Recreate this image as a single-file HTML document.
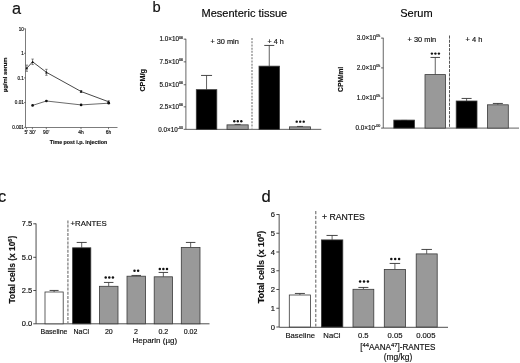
<!DOCTYPE html>
<html><head><meta charset="utf-8"><title>Figure</title>
<style>
html,body{margin:0;padding:0;background:#fff;}
body{width:520px;height:363px;overflow:hidden;}
svg{display:block;font-family:"Liberation Sans", sans-serif;filter:blur(0.35px);}
text{stroke:#111;stroke-width:0.16px;}
</style></head>
<body>
<svg width="520" height="363" viewBox="0 0 520 363">
<rect x="0" y="0" width="520" height="363" fill="#ffffff"/>
<text x="11.9" y="13.8" font-size="16.3" text-anchor="start" font-weight="normal" fill="#111" >a</text>
<line x1="25.5" y1="28.5" x2="25.5" y2="127.5" stroke="#444" stroke-width="0.7" />
<line x1="25.5" y1="127.5" x2="117.5" y2="127.5" stroke="#444" stroke-width="0.7" />
<line x1="24.0" y1="28.9" x2="25.5" y2="28.9" stroke="#444" stroke-width="0.7" />
<text x="23.8" y="30.5" font-size="4.6" text-anchor="end" font-weight="normal" fill="#111" >10</text>
<line x1="24.0" y1="53.3" x2="25.5" y2="53.3" stroke="#444" stroke-width="0.7" />
<text x="23.8" y="54.9" font-size="4.6" text-anchor="end" font-weight="normal" fill="#111" >1</text>
<line x1="24.0" y1="77.9" x2="25.5" y2="77.9" stroke="#444" stroke-width="0.7" />
<text x="23.8" y="79.5" font-size="4.6" text-anchor="end" font-weight="normal" fill="#111" >0.1</text>
<line x1="24.0" y1="102.6" x2="25.5" y2="102.6" stroke="#444" stroke-width="0.7" />
<text x="23.8" y="104.19999999999999" font-size="4.6" text-anchor="end" font-weight="normal" fill="#111" >0.01</text>
<line x1="24.0" y1="127.4" x2="25.5" y2="127.4" stroke="#444" stroke-width="0.7" />
<text x="23.8" y="129.0" font-size="4.6" text-anchor="end" font-weight="normal" fill="#111" >0.001</text>
<line x1="26.4" y1="127.5" x2="26.4" y2="129.2" stroke="#444" stroke-width="0.7" />
<text x="26.4" y="134.2" font-size="4.9" text-anchor="middle" font-weight="normal" fill="#111" >5'</text>
<line x1="32.4" y1="127.5" x2="32.4" y2="129.2" stroke="#444" stroke-width="0.7" />
<text x="32.4" y="134.2" font-size="4.9" text-anchor="middle" font-weight="normal" fill="#111" >30'</text>
<line x1="46.3" y1="127.5" x2="46.3" y2="129.2" stroke="#444" stroke-width="0.7" />
<text x="46.3" y="134.2" font-size="4.9" text-anchor="middle" font-weight="normal" fill="#111" >90'</text>
<line x1="81" y1="127.5" x2="81" y2="129.2" stroke="#444" stroke-width="0.7" />
<text x="81" y="134.2" font-size="4.9" text-anchor="middle" font-weight="normal" fill="#111" >4h</text>
<line x1="108.5" y1="127.5" x2="108.5" y2="129.2" stroke="#444" stroke-width="0.7" />
<text x="108.5" y="134.2" font-size="4.9" text-anchor="middle" font-weight="normal" fill="#111" >6h</text>
<text transform="translate(6.7,74.8) rotate(-90)" font-size="5.85" font-weight="bold" text-anchor="middle" fill="#111">µg/ml serum</text>
<text x="78.5" y="144" font-size="5.3" text-anchor="middle" font-weight="bold" fill="#111" >Time post i.p. injection</text>
<polyline fill="none" stroke="#333" stroke-width="0.9" points="26.8,68.2 32.6,61.8 46.4,72.3 81.1,91.5 108.7,101.8"/>
<polyline fill="none" stroke="#5a5a5a" stroke-width="0.9" points="32.6,105.4 46.4,101 81.1,104.9 108.7,103.2"/>
<line x1="26.8" y1="65.10000000000001" x2="26.8" y2="71.3" stroke="#3a3a3a" stroke-width="0.6" />
<line x1="25.6" y1="65.10000000000001" x2="28.0" y2="65.10000000000001" stroke="#3a3a3a" stroke-width="0.6" />
<line x1="25.6" y1="71.3" x2="28.0" y2="71.3" stroke="#3a3a3a" stroke-width="0.6" />
<polygon points="26.8,66.8 28.1,69.3 25.5,69.3" fill="#111"/>
<line x1="32.6" y1="59.05" x2="32.6" y2="64.55" stroke="#3a3a3a" stroke-width="0.6" />
<line x1="31.400000000000002" y1="59.05" x2="33.800000000000004" y2="59.05" stroke="#3a3a3a" stroke-width="0.6" />
<line x1="31.400000000000002" y1="64.55" x2="33.800000000000004" y2="64.55" stroke="#3a3a3a" stroke-width="0.6" />
<polygon points="32.6,60.4 33.9,62.9 31.3,62.9" fill="#111"/>
<line x1="46.4" y1="69.3" x2="46.4" y2="75.3" stroke="#3a3a3a" stroke-width="0.6" />
<line x1="45.199999999999996" y1="69.3" x2="47.6" y2="69.3" stroke="#3a3a3a" stroke-width="0.6" />
<line x1="45.199999999999996" y1="75.3" x2="47.6" y2="75.3" stroke="#3a3a3a" stroke-width="0.6" />
<polygon points="46.4,70.89999999999999 47.699999999999996,73.39999999999999 45.1,73.39999999999999" fill="#111"/>
<line x1="81.1" y1="90.5" x2="81.1" y2="92.5" stroke="#3a3a3a" stroke-width="0.6" />
<line x1="79.89999999999999" y1="90.5" x2="82.3" y2="90.5" stroke="#3a3a3a" stroke-width="0.6" />
<line x1="79.89999999999999" y1="92.5" x2="82.3" y2="92.5" stroke="#3a3a3a" stroke-width="0.6" />
<polygon points="81.1,90.1 82.39999999999999,92.6 79.8,92.6" fill="#111"/>
<line x1="108.7" y1="100.8" x2="108.7" y2="102.8" stroke="#3a3a3a" stroke-width="0.6" />
<line x1="107.5" y1="100.8" x2="109.9" y2="100.8" stroke="#3a3a3a" stroke-width="0.6" />
<line x1="107.5" y1="102.8" x2="109.9" y2="102.8" stroke="#3a3a3a" stroke-width="0.6" />
<polygon points="108.7,100.39999999999999 110.0,102.89999999999999 107.4,102.89999999999999" fill="#111"/>
<circle cx="32.6" cy="105.4" r="1.35" fill="#111"/>
<circle cx="46.4" cy="101" r="1.35" fill="#111"/>
<circle cx="81.1" cy="104.9" r="1.35" fill="#111"/>
<circle cx="108.7" cy="103.2" r="1.35" fill="#111"/>
<g transform="translate(0,0.55)">
<text x="152.5" y="11.9" font-size="14.7" text-anchor="start" font-weight="normal" fill="#111" >b</text>
<text x="244.4" y="16.85" font-size="11.0" text-anchor="middle" font-weight="normal" fill="#000" >Mesenteric tissue</text>
<line x1="185.9" y1="38.3" x2="185.9" y2="128.8" stroke="#666" stroke-width="1.0" />
<line x1="185.9" y1="128.8" x2="321.3" y2="128.8" stroke="#3a3a3a" stroke-width="0.8" />
<line x1="183.70000000000002" y1="38.6" x2="185.9" y2="38.6" stroke="#3a3a3a" stroke-width="0.8" />
<text x="182.9" y="40.800000000000004" font-size="6.3" text-anchor="end" fill="#111">1.0×10<tspan font-size="3.6" dy="-2.8">06</tspan></text>
<line x1="183.70000000000002" y1="61.3" x2="185.9" y2="61.3" stroke="#3a3a3a" stroke-width="0.8" />
<text x="182.9" y="63.5" font-size="6.3" text-anchor="end" fill="#111">7.5×10<tspan font-size="3.6" dy="-2.8">06</tspan></text>
<line x1="183.70000000000002" y1="84.2" x2="185.9" y2="84.2" stroke="#3a3a3a" stroke-width="0.8" />
<text x="182.9" y="86.4" font-size="6.3" text-anchor="end" fill="#111">5.0×10<tspan font-size="3.6" dy="-2.8">06</tspan></text>
<line x1="183.70000000000002" y1="106.3" x2="185.9" y2="106.3" stroke="#3a3a3a" stroke-width="0.8" />
<text x="182.9" y="108.5" font-size="6.3" text-anchor="end" fill="#111">2.5×10<tspan font-size="3.6" dy="-2.8">06</tspan></text>
<line x1="183.70000000000002" y1="128.8" x2="185.9" y2="128.8" stroke="#3a3a3a" stroke-width="0.8" />
<text x="182.9" y="131.0" font-size="6.3" text-anchor="end" fill="#111">0.0×10<tspan font-size="3.6" dy="-2.8">-00</tspan></text>
<text transform="translate(145.3,79.85) rotate(-90)" font-size="7.2" font-weight="bold" text-anchor="middle" fill="#111">CPM/g</text>
<line x1="206.55" y1="89.1" x2="206.55" y2="74.9" stroke="#3a3a3a" stroke-width="0.8" />
<line x1="201.05" y1="74.9" x2="212.05" y2="74.9" stroke="#333" stroke-width="0.9" />
<rect x="196.3" y="89.1" width="20.5" height="39.70000000000002" fill="#000" stroke="#3a3a3a" stroke-width="0.8"/>
<line x1="237.6" y1="124.3" x2="237.6" y2="123.9" stroke="#3a3a3a" stroke-width="0.8" />
<line x1="234.6" y1="123.9" x2="240.6" y2="123.9" stroke="#333" stroke-width="0.9" />
<rect x="227" y="124.3" width="21.19999999999999" height="4.500000000000014" fill="#999999" stroke="#3a3a3a" stroke-width="0.8"/>
<circle cx="234.3" cy="120.7" r="1.2" fill="#111"/>
<circle cx="237.8" cy="120.7" r="1.2" fill="#111"/>
<circle cx="241.3" cy="120.7" r="1.2" fill="#111"/>
<line x1="252" y1="37.5" x2="252" y2="128" stroke="#8a8a8a" stroke-width="1.3" stroke-dasharray="2 1.2"/>
<line x1="269.25" y1="65.6" x2="269.25" y2="44.900000000000006" stroke="#3a3a3a" stroke-width="0.8" />
<line x1="264.25" y1="44.900000000000006" x2="274.25" y2="44.900000000000006" stroke="#333" stroke-width="0.9" />
<rect x="259.0" y="65.6" width="20.5" height="63.20000000000002" fill="#000" stroke="#3a3a3a" stroke-width="0.8"/>
<line x1="300.0" y1="126.3" x2="300.0" y2="125.9" stroke="#3a3a3a" stroke-width="0.8" />
<line x1="297.0" y1="125.9" x2="303.0" y2="125.9" stroke="#333" stroke-width="0.9" />
<rect x="289.5" y="126.3" width="21.0" height="2.500000000000014" fill="#999999" stroke="#3a3a3a" stroke-width="0.8"/>
<circle cx="296.7" cy="121.1" r="1.2" fill="#111"/>
<circle cx="300.2" cy="121.1" r="1.2" fill="#111"/>
<circle cx="303.7" cy="121.1" r="1.2" fill="#111"/>
<text x="224.6" y="43.3" font-size="7.35" text-anchor="middle" font-weight="normal" fill="#111" >+ 30 min</text>
<text x="275.6" y="43.5" font-size="7.2" text-anchor="middle" font-weight="normal" fill="#111" >+ 4 h</text>
</g>
<g transform="translate(0,0.6)">
<text x="416.4" y="16.8" font-size="11.0" text-anchor="middle" font-weight="normal" fill="#000" >Serum</text>
<line x1="383.25" y1="37.2" x2="383.25" y2="127.5" stroke="#666" stroke-width="1.0" />
<line x1="383.25" y1="127.5" x2="519" y2="127.5" stroke="#3a3a3a" stroke-width="0.8" />
<line x1="381.05" y1="37.5" x2="383.25" y2="37.5" stroke="#3a3a3a" stroke-width="0.8" />
<text x="380.25" y="39.7" font-size="6.3" text-anchor="end" fill="#111">3.0×10<tspan font-size="3.6" dy="-2.8">05</tspan></text>
<line x1="381.05" y1="67.3" x2="383.25" y2="67.3" stroke="#3a3a3a" stroke-width="0.8" />
<text x="380.25" y="69.5" font-size="6.3" text-anchor="end" fill="#111">2.0×10<tspan font-size="3.6" dy="-2.8">05</tspan></text>
<line x1="381.05" y1="97.5" x2="383.25" y2="97.5" stroke="#3a3a3a" stroke-width="0.8" />
<text x="380.25" y="99.7" font-size="6.3" text-anchor="end" fill="#111">1.0×10<tspan font-size="3.6" dy="-2.8">05</tspan></text>
<line x1="381.05" y1="127.5" x2="383.25" y2="127.5" stroke="#3a3a3a" stroke-width="0.8" />
<text x="380.25" y="129.7" font-size="6.3" text-anchor="end" fill="#111">0.0×10<tspan font-size="3.6" dy="-2.8">-00</tspan></text>
<text transform="translate(343,78.8) rotate(-90)" font-size="6.9" font-weight="bold" text-anchor="middle" fill="#111">CPM/ml</text>
<line x1="404.15" y1="119.5" x2="404.15" y2="119.85000000000001" stroke="#3a3a3a" stroke-width="0.8" />
<line x1="401.15" y1="119.85000000000001" x2="407.15" y2="119.85000000000001" stroke="#333" stroke-width="0.9" />
<rect x="393.8" y="119.5" width="20.69999999999999" height="8.0" fill="#000" stroke="#3a3a3a" stroke-width="0.8"/>
<line x1="435.25" y1="74" x2="435.25" y2="56.85" stroke="#3a3a3a" stroke-width="0.8" />
<line x1="430.5" y1="56.85" x2="440.0" y2="56.85" stroke="#333" stroke-width="0.9" />
<rect x="425" y="74" width="20.5" height="53.5" fill="#999999" stroke="#3a3a3a" stroke-width="0.8"/>
<circle cx="431.9" cy="53" r="1.2" fill="#111"/>
<circle cx="435.4" cy="53" r="1.2" fill="#111"/>
<circle cx="438.9" cy="53" r="1.2" fill="#111"/>
<line x1="449.5" y1="34.9" x2="449.5" y2="127" stroke="#444" stroke-width="0.9" stroke-dasharray="3.1 1.1"/>
<line x1="466.6" y1="100.4" x2="466.6" y2="97.85000000000001" stroke="#3a3a3a" stroke-width="0.8" />
<line x1="461.6" y1="97.85000000000001" x2="471.6" y2="97.85000000000001" stroke="#333" stroke-width="0.9" />
<rect x="456.2" y="100.4" width="20.80000000000001" height="27.099999999999994" fill="#000" stroke="#3a3a3a" stroke-width="0.8"/>
<line x1="497.85" y1="104.2" x2="497.85" y2="102.85000000000001" stroke="#3a3a3a" stroke-width="0.8" />
<line x1="492.85" y1="102.85000000000001" x2="502.85" y2="102.85000000000001" stroke="#333" stroke-width="0.9" />
<rect x="487.4" y="104.2" width="20.900000000000034" height="23.299999999999997" fill="#999999" stroke="#3a3a3a" stroke-width="0.8"/>
<text x="421.9" y="41.9" font-size="7.4" text-anchor="middle" font-weight="normal" fill="#111" >+ 30 min</text>
<text x="482.4" y="41.7" font-size="7.5" text-anchor="end" font-weight="normal" fill="#111" >+ 4 h</text>
</g>
<text x="-2.0" y="202.3" font-size="16.4" text-anchor="start" font-weight="normal" fill="#111" >c</text>
<line x1="36.05" y1="223.5" x2="36.05" y2="323.8" stroke="#3a3a3a" stroke-width="0.9" />
<line x1="36.05" y1="323.8" x2="209.5" y2="323.8" stroke="#3a3a3a" stroke-width="0.9" />
<line x1="33.25" y1="223.8" x2="36.05" y2="223.8" stroke="#3a3a3a" stroke-width="0.9" />
<text x="32.25" y="226.4" font-size="7.5" text-anchor="end" font-weight="normal" fill="#111" >7.5</text>
<line x1="33.25" y1="257.3" x2="36.05" y2="257.3" stroke="#3a3a3a" stroke-width="0.9" />
<text x="32.25" y="259.90000000000003" font-size="7.5" text-anchor="end" font-weight="normal" fill="#111" >5.0</text>
<line x1="33.25" y1="290.5" x2="36.05" y2="290.5" stroke="#3a3a3a" stroke-width="0.9" />
<text x="32.25" y="293.1" font-size="7.5" text-anchor="end" font-weight="normal" fill="#111" >2.5</text>
<line x1="33.25" y1="323.8" x2="36.05" y2="323.8" stroke="#3a3a3a" stroke-width="0.9" />
<text x="32.25" y="326.40000000000003" font-size="7.5" text-anchor="end" font-weight="normal" fill="#111" >0.0</text>
<text transform="translate(14.5,269.6) rotate(-90)" font-size="8.4" font-weight="bold" text-anchor="middle" fill="#111">Total cells (x 10<tspan font-size="5.5" dy="-3">6</tspan><tspan dy="3">)</tspan></text>
<line x1="67.9" y1="220.4" x2="67.9" y2="323.3" stroke="#8a8a8a" stroke-width="1.4" stroke-dasharray="3 1.2"/>
<text x="70.5" y="225.9" font-size="7.8" text-anchor="start" font-weight="normal" fill="#111" >+RANTES</text>
<line x1="54.1" y1="292" x2="54.1" y2="290.45" stroke="#3a3a3a" stroke-width="0.8" />
<line x1="49.6" y1="290.45" x2="58.6" y2="290.45" stroke="#333" stroke-width="0.9" />
<rect x="45" y="292" width="18.200000000000003" height="31.80000000000001" fill="#fff" stroke="#3a3a3a" stroke-width="0.8"/>
<line x1="81.69999999999999" y1="247.8" x2="81.69999999999999" y2="242.45" stroke="#3a3a3a" stroke-width="0.8" />
<line x1="76.69999999999999" y1="242.45" x2="86.69999999999999" y2="242.45" stroke="#333" stroke-width="0.9" />
<rect x="72.6" y="247.8" width="18.200000000000003" height="76.0" fill="#000" stroke="#3a3a3a" stroke-width="0.8"/>
<line x1="108.7" y1="286.3" x2="108.7" y2="282.45" stroke="#3a3a3a" stroke-width="0.8" />
<line x1="103.95" y1="282.45" x2="113.45" y2="282.45" stroke="#333" stroke-width="0.9" />
<rect x="99.4" y="286.3" width="18.599999999999994" height="37.5" fill="#999999" stroke="#3a3a3a" stroke-width="0.8"/>
<circle cx="105.7" cy="277.6" r="1.25" fill="#111"/>
<circle cx="109.3" cy="277.6" r="1.25" fill="#111"/>
<circle cx="112.9" cy="277.6" r="1.25" fill="#111"/>
<line x1="136.25" y1="276.2" x2="136.25" y2="275.45" stroke="#3a3a3a" stroke-width="0.8" />
<line x1="131.5" y1="275.45" x2="141.0" y2="275.45" stroke="#333" stroke-width="0.9" />
<rect x="127" y="276.2" width="18.5" height="47.60000000000002" fill="#999999" stroke="#3a3a3a" stroke-width="0.8"/>
<circle cx="134.5" cy="270.8" r="1.25" fill="#111"/>
<circle cx="138.1" cy="270.8" r="1.25" fill="#111"/>
<line x1="163.35" y1="276.8" x2="163.35" y2="272.45" stroke="#3a3a3a" stroke-width="0.8" />
<line x1="158.6" y1="272.45" x2="168.1" y2="272.45" stroke="#333" stroke-width="0.9" />
<rect x="154.2" y="276.8" width="18.30000000000001" height="47.0" fill="#999999" stroke="#3a3a3a" stroke-width="0.8"/>
<circle cx="159.8" cy="269.0" r="1.25" fill="#111"/>
<circle cx="163.4" cy="269.0" r="1.25" fill="#111"/>
<circle cx="167.0" cy="269.0" r="1.25" fill="#111"/>
<line x1="190.65" y1="247.4" x2="190.65" y2="242.45" stroke="#3a3a3a" stroke-width="0.8" />
<line x1="185.9" y1="242.45" x2="195.4" y2="242.45" stroke="#333" stroke-width="0.9" />
<rect x="181.3" y="247.4" width="18.69999999999999" height="76.4" fill="#999999" stroke="#3a3a3a" stroke-width="0.8"/>
<text x="54" y="333.6" font-size="7" text-anchor="middle" font-weight="normal" fill="#111" >Baseline</text>
<text x="81.3" y="333.6" font-size="7" text-anchor="middle" font-weight="normal" fill="#111" >NaCl</text>
<text x="108.8" y="333.6" font-size="7" text-anchor="middle" font-weight="normal" fill="#111" >20</text>
<text x="135.9" y="333.6" font-size="7" text-anchor="middle" font-weight="normal" fill="#111" >2</text>
<text x="163.3" y="333.6" font-size="7" text-anchor="middle" font-weight="normal" fill="#111" >0.2</text>
<text x="190.6" y="333.6" font-size="7" text-anchor="middle" font-weight="normal" fill="#111" >0.02</text>
<text x="154.8" y="343.3" font-size="8" text-anchor="middle" font-weight="normal" fill="#111" >Heparin (µg)</text>
<text x="261.4" y="202" font-size="16.6" text-anchor="start" font-weight="normal" fill="#111" >d</text>
<line x1="279.15" y1="214.2" x2="279.15" y2="327" stroke="#3a3a3a" stroke-width="0.9" />
<line x1="279.15" y1="327.3" x2="448" y2="327.3" stroke="#3a3a3a" stroke-width="0.9" />
<line x1="276.34999999999997" y1="327.0" x2="279.15" y2="327.0" stroke="#3a3a3a" stroke-width="0.9" />
<text x="274.95" y="329.7" font-size="7.6" text-anchor="end" font-weight="normal" fill="#111" >0</text>
<line x1="276.34999999999997" y1="308.25" x2="279.15" y2="308.25" stroke="#3a3a3a" stroke-width="0.9" />
<text x="274.95" y="310.95" font-size="7.6" text-anchor="end" font-weight="normal" fill="#111" >1</text>
<line x1="276.34999999999997" y1="289.5" x2="279.15" y2="289.5" stroke="#3a3a3a" stroke-width="0.9" />
<text x="274.95" y="292.2" font-size="7.6" text-anchor="end" font-weight="normal" fill="#111" >2</text>
<line x1="276.34999999999997" y1="270.75" x2="279.15" y2="270.75" stroke="#3a3a3a" stroke-width="0.9" />
<text x="274.95" y="273.45" font-size="7.6" text-anchor="end" font-weight="normal" fill="#111" >3</text>
<line x1="276.34999999999997" y1="252.0" x2="279.15" y2="252.0" stroke="#3a3a3a" stroke-width="0.9" />
<text x="274.95" y="254.7" font-size="7.6" text-anchor="end" font-weight="normal" fill="#111" >4</text>
<line x1="276.34999999999997" y1="233.25" x2="279.15" y2="233.25" stroke="#3a3a3a" stroke-width="0.9" />
<text x="274.95" y="235.95" font-size="7.6" text-anchor="end" font-weight="normal" fill="#111" >5</text>
<line x1="276.34999999999997" y1="214.5" x2="279.15" y2="214.5" stroke="#3a3a3a" stroke-width="0.9" />
<text x="274.95" y="217.2" font-size="7.6" text-anchor="end" font-weight="normal" fill="#111" >6</text>
<text transform="translate(264.4,267) rotate(-90)" font-size="9" font-weight="bold" text-anchor="middle" fill="#111">Total cells (x 10<tspan font-size="5.8" dy="-3.2">6</tspan><tspan dy="3.2">)</tspan></text>
<line x1="315.8" y1="211" x2="315.8" y2="326.5" stroke="#4a4a4a" stroke-width="0.9" stroke-dasharray="3.2 1.7"/>
<text x="322" y="220.2" font-size="8.7" text-anchor="start" font-weight="normal" fill="#111" >+ RANTES</text>
<line x1="299.9" y1="295" x2="299.9" y2="293.45" stroke="#3a3a3a" stroke-width="0.8" />
<line x1="294.9" y1="293.45" x2="304.9" y2="293.45" stroke="#333" stroke-width="0.9" />
<rect x="289.3" y="295" width="21.19999999999999" height="32" fill="#fff" stroke="#3a3a3a" stroke-width="0.8"/>
<line x1="332.1" y1="239.9" x2="332.1" y2="235.45" stroke="#3a3a3a" stroke-width="0.8" />
<line x1="326.5" y1="235.45" x2="337.70000000000005" y2="235.45" stroke="#333" stroke-width="0.9" />
<rect x="321.4" y="239.9" width="21.400000000000034" height="87.1" fill="#000" stroke="#3a3a3a" stroke-width="0.8"/>
<line x1="363.4" y1="289.3" x2="363.4" y2="287.45" stroke="#3a3a3a" stroke-width="0.8" />
<line x1="358.4" y1="287.45" x2="368.4" y2="287.45" stroke="#333" stroke-width="0.9" />
<rect x="353" y="289.3" width="20.80000000000001" height="37.69999999999999" fill="#999999" stroke="#3a3a3a" stroke-width="0.8"/>
<circle cx="360.1" cy="281.6" r="1.25" fill="#111"/>
<circle cx="364.0" cy="281.6" r="1.25" fill="#111"/>
<circle cx="367.90000000000003" cy="281.6" r="1.25" fill="#111"/>
<line x1="394.9" y1="269.5" x2="394.9" y2="263.45" stroke="#3a3a3a" stroke-width="0.8" />
<line x1="389.65" y1="263.45" x2="400.15" y2="263.45" stroke="#333" stroke-width="0.9" />
<rect x="384.3" y="269.5" width="21.19999999999999" height="57.5" fill="#999999" stroke="#3a3a3a" stroke-width="0.8"/>
<circle cx="391.3" cy="258.9" r="1.25" fill="#111"/>
<circle cx="395.2" cy="258.9" r="1.25" fill="#111"/>
<circle cx="399.1" cy="258.9" r="1.25" fill="#111"/>
<line x1="426.7" y1="253.9" x2="426.7" y2="249.45" stroke="#3a3a3a" stroke-width="0.8" />
<line x1="421.45" y1="249.45" x2="431.95" y2="249.45" stroke="#333" stroke-width="0.9" />
<rect x="416.2" y="253.9" width="21.0" height="73.1" fill="#999999" stroke="#3a3a3a" stroke-width="0.8"/>
<text x="300.2" y="337.7" font-size="7.7" text-anchor="middle" font-weight="normal" fill="#111" >Baseline</text>
<text x="331.9" y="337.7" font-size="7.7" text-anchor="middle" font-weight="normal" fill="#111" >NaCl</text>
<text x="363.3" y="337.7" font-size="7.7" text-anchor="middle" font-weight="normal" fill="#111" >0.5</text>
<text x="395" y="337.7" font-size="7.7" text-anchor="middle" font-weight="normal" fill="#111" >0.05</text>
<text x="425.8" y="337.7" font-size="7.7" text-anchor="middle" font-weight="normal" fill="#111" >0.005</text>
<text x="397.8" y="349.9" font-size="8.15" text-anchor="middle" fill="#111">[<tspan font-size="5.8" dy="-2.8">44</tspan><tspan dy="2.8">AANA</tspan><tspan font-size="5.8" dy="-2.8">47</tspan><tspan dy="2.8">]-RANTES</tspan></text>
<text x="398.0" y="360.0" font-size="8.45" text-anchor="middle" font-weight="normal" fill="#111" >(mg/kg)</text>
</svg>
</body></html>
